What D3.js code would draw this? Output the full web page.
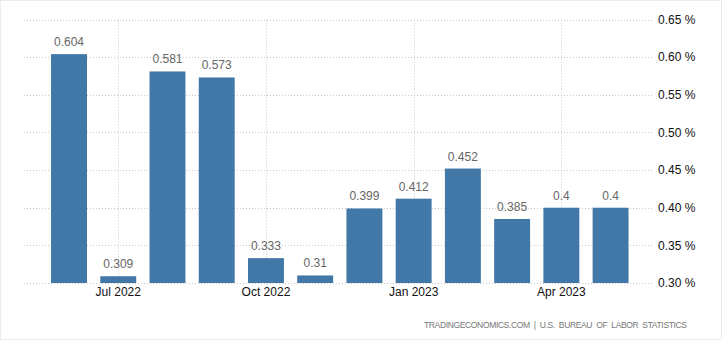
<!DOCTYPE html>
<html><head><meta charset="utf-8">
<script src="https://cdn.jsdelivr.net/npm/d3@7"></script>
<style>html,body{margin:0;padding:0;background:#fff;}svg{display:block;}</style>
</head><body>
<svg id="c" width="722" height="341"></svg>
<script>
const months = ["Jun 2022","Jul 2022","Aug 2022","Sep 2022","Oct 2022","Nov 2022","Dec 2022","Jan 2023","Feb 2023","Mar 2023","Apr 2023","May 2023"];
const values = [0.604,0.309,0.581,0.573,0.333,0.31,0.399,0.412,0.452,0.385,0.4,0.4];
const valueLabels = ["0.604","0.309","0.581","0.573","0.333","0.31","0.399","0.412","0.452","0.385","0.4","0.4"];
const xTickLabels = ["Jul 2022","Oct 2022","Jan 2023","Apr 2023"];
const yTicks = [0.30,0.35,0.40,0.45,0.50,0.55,0.60,0.65];
const source = "TRADINGECONOMICS.COM  |  U.S.  BUREAU  OF  LABOR  STATISTICS";

const svg = d3.select("#c");
const font = "'Liberation Sans', Arial, sans-serif";
svg.append("rect").attr("x",0.5).attr("y",0.5).attr("width",721).attr("height",339)
  .attr("fill","none").attr("stroke","#ececec");

const x = d3.scaleBand().domain(months).range([44.4,635.2]).paddingInner(0.27).paddingOuter(0.135);
const y = d3.scaleLinear().domain([0.30,0.65]).range([283,19.5]);
const gridL = 24, gridR = 653;

// horizontal grid
svg.append("g").selectAll("line").data(yTicks).join("line")
  .attr("x1",gridL).attr("x2",gridR).attr("y1",d=>Math.round(y(d))+0.5).attr("y2",d=>Math.round(y(d))+0.5)
  .attr("stroke","#c8c8c8").attr("stroke-dasharray","1,2");
// vertical grid
svg.append("g").selectAll("line").data(xTickLabels).join("line")
  .attr("x1",d=>Math.round(x(d)+x.bandwidth()/2)+0.5).attr("x2",d=>Math.round(x(d)+x.bandwidth()/2)+0.5)
  .attr("y1",19.5).attr("y2",287)
  .attr("stroke","#c8c8c8").attr("stroke-dasharray","1,2");

// bars
svg.append("g").selectAll("rect").data(values).join("rect")
  .attr("x",(d,i)=>x(months[i])).attr("width",x.bandwidth())
  .attr("y",d=>y(d)).attr("height",d=>y(0.30)-y(d))
  .attr("fill","#4278a8");

// value labels
svg.append("g").selectAll("text").data(values).join("text")
  .attr("x",(d,i)=>x(months[i])+x.bandwidth()/2).attr("y",d=>y(d)-8)
  .attr("text-anchor","middle").attr("font-family",font).attr("font-size",12)
  .attr("fill","#666").text((d,i)=>valueLabels[i]);

// y axis labels (right)
const yAxis = d3.axisRight(y).tickValues(yTicks).tickSize(0).tickPadding(0).tickFormat(d=>d3.format(".2f")(d)+" %");
const ya = svg.append("g").attr("transform","translate(658,0)").call(yAxis);
ya.select(".domain").remove();
ya.selectAll("text").attr("font-family",font).attr("font-size",12).attr("fill","#111");

// x axis labels
const xAxis = d3.axisBottom(x).tickValues(xTickLabels).tickSize(0).tickPadding(0);
const xa = svg.append("g").attr("transform","translate(0,287)").call(xAxis);
xa.select(".domain").remove();
xa.selectAll("text").attr("font-family",font).attr("font-size",12).attr("fill","#111").attr("dy","0.71em");

// source
svg.append("text").attr("x",424).attr("y",328)
  .attr("font-family",font).attr("font-size",8.5).attr("fill","#777")
  .attr("textLength",263).attr("lengthAdjust","spacing")
  .attr("xml:space","preserve").style("white-space","pre").text(source);
</script>
</body></html>
